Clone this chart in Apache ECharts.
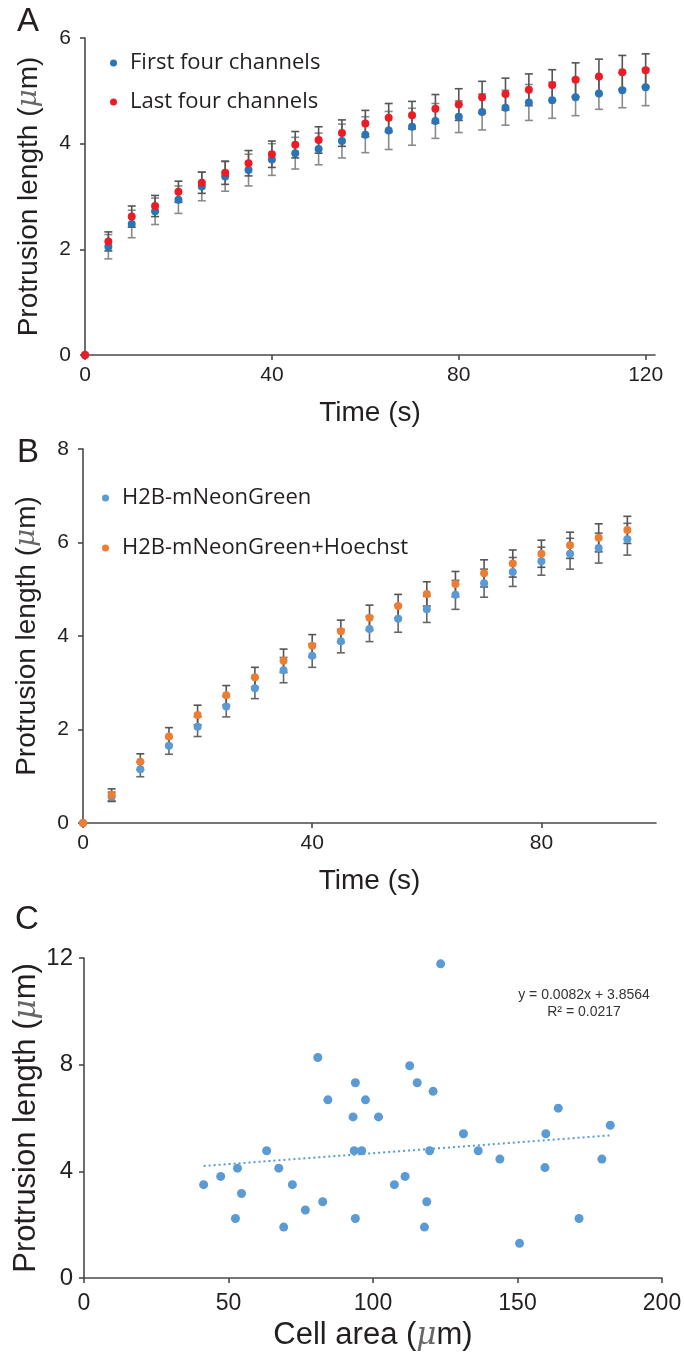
<!DOCTYPE html>
<html><head><meta charset="utf-8">
<script src="https://cdn.jsdelivr.net/npm/echarts@6/dist/echarts.min.js"></script>
<style>html,body{margin:0;padding:0;background:#fff}#c{width:684px;height:1358px}</style>
</head><body><div id="c"></div>
<script>
// ---- Panel A ----
const timeA = [0,5,10,15,20,25,30,35,40,45,50,55,60,65,70,75,80,85,90,95,100,105,110,115,120];
const firstFour = [0,2.05,2.48,2.72,2.94,3.19,3.38,3.50,3.70,3.82,3.90,4.05,4.17,4.25,4.32,4.43,4.51,4.60,4.68,4.78,4.82,4.88,4.95,5.01,5.07];
const firstFourErr = [0,0.23,0.26,0.25,0.26,0.27,0.28,0.30,0.30,0.30,0.30,0.32,0.34,0.36,0.35,0.33,0.30,0.34,0.33,0.34,0.34,0.35,0.30,0.33,0.35];
const lastFour = [0,2.15,2.62,2.82,3.09,3.26,3.45,3.63,3.80,3.98,4.07,4.20,4.38,4.49,4.54,4.66,4.74,4.88,4.94,5.02,5.11,5.21,5.27,5.35,5.39];
const lastFourErr = [0,0.18,0.20,0.20,0.20,0.20,0.22,0.24,0.25,0.25,0.25,0.25,0.25,0.27,0.26,0.27,0.30,0.30,0.30,0.30,0.29,0.32,0.33,0.32,0.31];
const ticksA_x = [0,40,80,120];
// ---- Panel B ----
const timeB = [0,5,10,15,20,25,30,35,40,45,50,55,60,65,70,75,80,85,90,95];
const neon = [0,0.56,1.15,1.65,2.06,2.49,2.88,3.27,3.58,3.89,4.15,4.37,4.57,4.88,5.13,5.37,5.60,5.76,5.88,6.07];
const neonErr = [0,0.10,0.16,0.18,0.21,0.22,0.22,0.27,0.25,0.25,0.27,0.29,0.28,0.31,0.30,0.31,0.30,0.33,0.32,0.34];
const neonHoechst = [0,0.60,1.31,1.85,2.31,2.73,3.12,3.47,3.79,4.10,4.39,4.64,4.90,5.11,5.34,5.55,5.76,5.94,6.10,6.27];
const neonHoechstErr = [0,0.13,0.17,0.19,0.21,0.21,0.21,0.25,0.24,0.24,0.27,0.25,0.26,0.27,0.29,0.29,0.29,0.28,0.30,0.29];
const ticksB_x = [0,40,80];
// ---- Panel C ----
const cellArea = [123.4,80.9,112.7,93.9,115.3,120.8,84.4,97.4,93.1,101.9,63.2,93.5,96.1,119.6,53.1,67.4,47.3,41.4,72.1,107.4,111.1,54.5,82.6,118.6,76.6,52.4,93.9,69.1,117.8,164.1,131.3,182.1,159.8,136.4,143.9,159.5,179.2,171.3,150.7];
const protrusion = [11.78,8.27,7.96,7.32,7.32,7.00,6.68,6.68,6.04,6.04,4.77,4.77,4.77,4.77,4.12,4.12,3.81,3.50,3.50,3.50,3.81,3.17,2.86,2.86,2.55,2.23,2.23,1.91,1.91,6.37,5.41,5.73,5.41,4.77,4.46,4.14,4.46,2.23,1.30];
const trendX = [41.4,182.1];
const trendY = [4.20,5.35];
const equationLines = ['y = 0.0082x + 3.8564','R² = 0.0217'];

const AX = '#4a4a4a', TXT = '#231f20', FONT = 'Liberation Sans';
const zip = (xs, ys) => xs.map((x,i)=>[x,ys[i]]);
const errData = (xs, ys, es) => xs.map((x,i)=>[x, ys[i]-es[i], ys[i]+es[i]]);

function errRender(color){
  return function(params, api){
    const x = api.value(0), lo = api.value(1), hi = api.value(2);
    if (!(hi - lo > 0)) return null;
    const a = api.coord([x, hi]), b = api.coord([x, lo]);
    const w = 4, st = {stroke: color, lineWidth: 1.6};
    return {type:'group', children:[
      {type:'line', shape:{x1:a[0],y1:a[1],x2:b[0],y2:b[1]}, style:st},
      {type:'line', shape:{x1:a[0]-w,y1:a[1],x2:a[0]+w,y2:a[1]}, style:st},
      {type:'line', shape:{x1:b[0]-w,y1:b[1],x2:b[0]+w,y2:b[1]}, style:st}
    ]};
  };
}
const muStyle = {fontFamily:'DejaVu Serif', fontStyle:'italic', fontWeight:'lighter', color:'#666'};
function yName(size){ return {name:'Protrusion length ({mu|μ}m)', nameLocation:'middle', nameMoveOverlap:false, nameTextStyle:{fontSize:size, color:TXT, fontFamily:FONT, rich:{mu:Object.assign({fontSize:size}, muStyle)}}}; }
function baseAxis(extra){
  return Object.assign({
    axisLine:{onZero:false, lineStyle:{color:AX, width:1.6}},
    axisTick:{length:5, lineStyle:{color:AX, width:1.6}},
    splitLine:{show:false},
    axisLabel:{color:TXT, fontSize:21, fontFamily:FONT, margin:14}
  }, extra);
}
const legendText = {fontSize:22, fontFamily:'Open Sans', color:TXT, padding:[0,0,0,8], lineHeight:22};

const chart = echarts.init(document.getElementById('c'), null, {renderer:'canvas'});
const option = {
  animation:false,
  backgroundColor:'#fff',
  title:[
    {text:'A', left:12, top:0, textStyle:{fontSize:33, fontWeight:'normal', color:TXT, fontFamily:FONT}},
    {text:'B', left:12, top:431, textStyle:{fontSize:33, fontWeight:'normal', color:TXT, fontFamily:FONT}},
    {text:'C', left:10, top:898, textStyle:{fontSize:33, fontWeight:'normal', color:TXT, fontFamily:FONT}}
  ],
  legend:[
    {data:['First four channels','Last four channels'], orient:'vertical', left:105, top:47, itemGap:17, icon:'circle', itemWidth:7, itemHeight:7, textStyle:legendText},
    {data:['H2B-mNeonGreen','H2B-mNeonGreen+Hoechst'], orient:'vertical', left:97, top:482, itemGap:28, icon:'circle', itemWidth:7, itemHeight:7, textStyle:legendText}
  ],
  grid:[
    {left:85, top:38, width:570, height:317, outerBoundsMode:'none', containLabel:false},
    {left:83, top:449, width:573, height:374, outerBoundsMode:'none', containLabel:false},
    {left:84, top:958, width:578, height:320, outerBoundsMode:'none', containLabel:false}
  ],
  xAxis:[
    baseAxis({gridIndex:0, type:'value', min:0, max:122, name:'Time (s)', nameLocation:'middle', nameGap:44,
      nameTextStyle:{fontSize:28, color:TXT, fontFamily:FONT},
      axisLabel:{color:TXT, fontSize:21, fontFamily:FONT, margin:10, customValues:ticksA_x},
      axisTick:{length:5, lineStyle:{color:AX, width:1.6}, customValues:ticksA_x}}),
    baseAxis({gridIndex:1, type:'value', min:0, max:100, name:'Time (s)', nameLocation:'middle', nameGap:44,
      nameTextStyle:{fontSize:28, color:TXT, fontFamily:FONT},
      axisLabel:{color:TXT, fontSize:21, fontFamily:FONT, margin:10, customValues:ticksB_x},
      axisTick:{length:5, lineStyle:{color:AX, width:1.6}, customValues:ticksB_x}}),
    baseAxis({gridIndex:2, type:'value', min:0, max:200, interval:50,
      name:'Cell area ({mu|μ}m)', nameLocation:'middle', nameGap:42,
      nameTextStyle:{fontSize:31, color:TXT, fontFamily:FONT, rich:{mu:Object.assign({fontSize:31}, muStyle)}},
      axisLabel:{color:TXT, fontSize:23, fontFamily:FONT, margin:14}})
  ],
  yAxis:[
    baseAxis(Object.assign({gridIndex:0, type:'value', min:0, max:6, interval:2, nameGap:42}, yName(28))),
    baseAxis(Object.assign({gridIndex:1, type:'value', min:0, max:8, interval:2, nameGap:42}, yName(28))),
    baseAxis(Object.assign({gridIndex:2, type:'value', min:0, max:12, interval:4, nameGap:42,
      axisLabel:{color:TXT, fontSize:24, fontFamily:FONT, margin:11}}, yName(31)))
  ],
  series:[
    {type:'custom', xAxisIndex:0, yAxisIndex:0, renderItem:errRender('#8a8a8a'), encode:{x:0, y:[1,2]}, data:errData(timeA, firstFour, firstFourErr), z:1, clip:false},
    {type:'custom', xAxisIndex:0, yAxisIndex:0, renderItem:errRender('#555'), encode:{x:0, y:[1,2]}, data:errData(timeA, lastFour, lastFourErr), z:1, clip:false},
    {name:'First four channels', type:'scatter', xAxisIndex:0, yAxisIndex:0, symbolSize:8, itemStyle:{color:'#2b74b8', opacity:1}, data:zip(timeA, firstFour), z:3, clip:false},
    {name:'Last four channels', type:'scatter', xAxisIndex:0, yAxisIndex:0, symbolSize:8, itemStyle:{color:'#ec1c24', opacity:1}, data:zip(timeA, lastFour), z:4, clip:false},

    {type:'custom', xAxisIndex:1, yAxisIndex:1, renderItem:errRender('#666'), encode:{x:0, y:[1,2]}, data:errData(timeB, neon, neonErr), z:1, clip:false},
    {type:'custom', xAxisIndex:1, yAxisIndex:1, renderItem:errRender('#555'), encode:{x:0, y:[1,2]}, data:errData(timeB, neonHoechst, neonHoechstErr), z:1, clip:false},
    {name:'H2B-mNeonGreen', type:'scatter', xAxisIndex:1, yAxisIndex:1, symbolSize:8, itemStyle:{color:'#5b9bd5', opacity:1}, data:zip(timeB, neon), z:3, clip:false},
    {name:'H2B-mNeonGreen+Hoechst', type:'scatter', xAxisIndex:1, yAxisIndex:1, symbolSize:8, itemStyle:{color:'#ed7d31', opacity:1}, data:zip(timeB, neonHoechst), z:4, clip:false},

    {type:'line', xAxisIndex:2, yAxisIndex:2, data:zip(trendX, trendY), symbol:'none', lineStyle:{color:'#5b9bd5', width:2, type:[2,3]}, z:2},
    {type:'scatter', xAxisIndex:2, yAxisIndex:2, symbolSize:9, itemStyle:{color:'#5b9bd5', opacity:1}, data:zip(cellArea, protrusion), z:3}
  ],
  graphic:[
    {type:'text', x:584, y:995, style:{text:equationLines[0], fontSize:14, fontFamily:FONT, fill:'#333', align:'center', verticalAlign:'middle'}},
    {type:'text', x:584, y:1012, style:{text:equationLines[1], fontSize:14, fontFamily:FONT, fill:'#333', align:'center', verticalAlign:'middle'}}
  ]
};
chart.setOption(option);
</script></body></html>
